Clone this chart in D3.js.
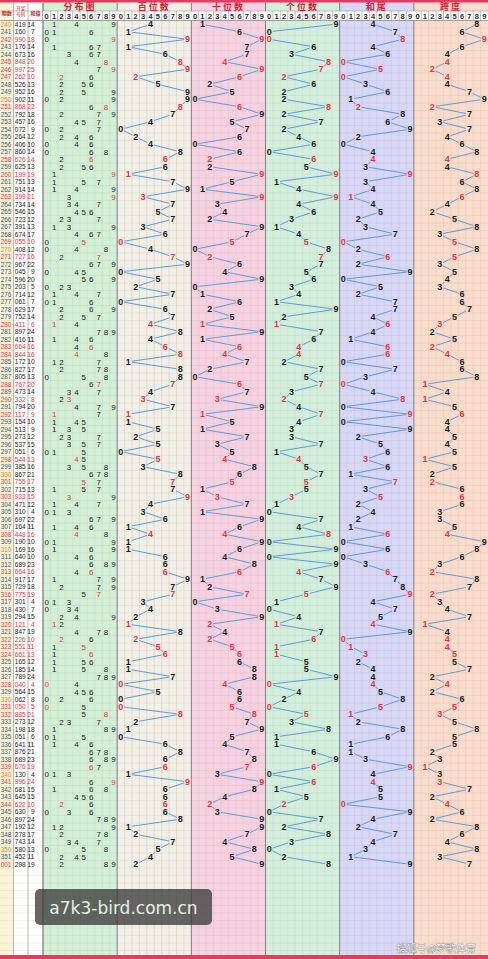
<!DOCTYPE html>
<html>
<head>
<meta charset="utf-8">
<script src="https://cdn.jsdelivr.net/npm/d3@7"></script>
<style>
body { margin: 0; background: #fff; }
svg { display: block; }
</style>
</head>
<body>
<div id="chart"></div>
<script>
// lottery trend chart: 3-digit draws, periods 240-351 + 001

// period labels
var periods = ["240","241","242","243","244","245","246","247","248","249",
  "250","251","252","253","254","255","256","257","258","259",
  "260","261","262","263","264","265","266","267","268","269",
  "270","271","272","273","274","275","276","277","278","279",
  "280","281","282","283","284","285","286","287","288","289",
  "290","291","292","293","294","295","296","297","298","299",
  "300","301","302","303","304","305","306","307","308","309",
  "310","311","312","313","314","315","316","317","318","319",
  "320","321","322","323","324","325","326","327","328","329",
  "330","331","332","333","334","335","336","337","338","339",
  "340","341","342","343","344","345","346","347","348","349",
  "350","351","001"];

// the drawn numbers, one per period
var draws = ["419","160","990","176","673","848","997","262","526","952",
  "902","868","792","457","072","264","406","860","626","625",
  "199","751","914","399","734","546","723","391","674","055",
  "408","727","967","045","596","203","714","061","629","752",
  "411","897","416","664","844","172","827","805","767","473",
  "332","794","117","154","513","273","537","051","544","385",
  "867","755","715","933","471","310","697","164","448","190",
  "169","640","689","664","917","729","775","301","430","294",
  "121","847","226","551","661","165","185","789","040","564",
  "062","050","885","273","198","051","641","876","689","676",
  "130","996","681","645","622","630","897","192","278","743",
  "580","452","298"];

// digit columns used in every chart area
var digits = ["0","1","2","3","4","5","6","7","8","9"];

// chart areas, in order
var areaTitles = ["分布图", "百位数", "十位数", "个位数", "和尾", "跨度"];
var areaFills = ["#d3efd6", "#f1efe6", "#f6d2e0", "#d3efdc", "#d8d7f5", "#f9dccb"];
var areaGrid = ["#c3e2c6", "#d6cfbd", "#eac3d2", "#c3e2cc", "#c9c8ea", "#efcbb9"];

//////////////////////////////////////////////////////////////////////
var ns = {};
ns.width = 488;
ns.height = 959;
ns.top = 20.5;          // first data row
ns.rowH = 7.5;
ns.chartX = 43;         // where the six chart areas begin
ns.areaW = (ns.width - ns.chartX) / 6;
ns.red = "#e6323e";
ns.line = "#5f9bd6";

// one record per row
ns.rows = draws.map(function (s, i) {
  var d = s.split("").map(Number);
  var sum = d[0] + d[1] + d[2];
  return {
    p: periods[i],
    n: s,
    d: d,
    sum: sum,
    tail: sum % 10,
    span: d3.max(d) - d3.min(d),
    pair: d[0] == d[1] || d[1] == d[2] || d[0] == d[2]
  };
});

var svg = d3.select("#chart").append("svg")
  .attr("width", ns.width)
  .attr("height", ns.height);

// row scale
var yScale = d3.scaleBand()
  .domain(periods)
  .range([ns.top, ns.top + periods.length * ns.rowH]);

// x scale for each area
var areaX = areaTitles.map(function (t, i) {
  var x0 = ns.chartX + i * ns.areaW;
  return d3.scaleBand().domain(digits).range([x0, x0 + ns.areaW]);
});

function cy(p) { return yScale(p) + yScale.bandwidth() / 2; }
function cx(a, v) { return areaX[a](String(v)) + areaX[a].bandwidth() / 2; }

var gridBottom = 955;

//////////////////////////////////////////////////////////////////////
// backgrounds
svg.append("rect").attr("x", 0).attr("y", 0).attr("width", 13.5)
  .attr("height", ns.height).attr("fill", "#fbf3d6");
svg.append("rect").attr("x", 13.5).attr("y", 0).attr("width", 29.5)
  .attr("height", ns.height).attr("fill", "#fdfdfb");

areaTitles.forEach(function (t, i) {
  var r = areaX[i].range();
  svg.append("rect")
    .attr("x", r[0]).attr("y", 0)
    .attr("width", r[1] - r[0]).attr("height", ns.height)
    .attr("fill", areaFills[i]);

  // vertical grid lines
  svg.append("g").selectAll("line")
    .data(digits.slice(1))
    .enter().append("line")
    .attr("x1", function (d) { return areaX[i](d); })
    .attr("x2", function (d) { return areaX[i](d); })
    .attr("y1", 11).attr("y2", gridBottom)
    .attr("stroke", areaGrid[i])
    .attr("stroke-width", 0.6);
});

// horizontal grid lines, data rows and empty rows below
var hLines = d3.range(ns.top, gridBottom, ns.rowH);
svg.append("g").selectAll("line")
  .data(hLines)
  .enter().append("line")
  .attr("x1", 0).attr("x2", ns.width)
  .attr("y1", function (d) { return d; })
  .attr("y2", function (d) { return d; })
  .attr("stroke", "#000")
  .attr("stroke-opacity", 0.08)
  .attr("stroke-width", 0.6);

// column separators
[13.5, 28, 43].forEach(function (x) {
  svg.append("line").attr("x1", x).attr("x2", x)
    .attr("y1", 3).attr("y2", gridBottom)
    .attr("stroke", "#9a9a9a").attr("stroke-width", 0.7);
});
areaTitles.forEach(function (t, i) {
  var x = areaX[i].range()[0];
  svg.append("line").attr("x1", x).attr("x2", x)
    .attr("y1", 3).attr("y2", gridBottom)
    .attr("stroke", "#7f7f7f").attr("stroke-width", 1);
});

//////////////////////////////////////////////////////////////////////
// header
var head = svg.append("g");
head.append("rect").attr("x", 43).attr("y", 11).attr("width", ns.width - 43)
  .attr("height", 9.5).attr("fill", "#fbfbfb");
head.append("line").attr("x1", 0).attr("x2", ns.width)
  .attr("y1", 11).attr("y2", 11).attr("stroke", "#a0a0a0").attr("stroke-width", 0.6);
head.append("line").attr("x1", 0).attr("x2", ns.width)
  .attr("y1", ns.top).attr("y2", ns.top).attr("stroke", "#8a8a8a").attr("stroke-width", 0.8);

areaTitles.forEach(function (t, i) {
  var r = areaX[i].range();
  head.append("text")
    .attr("x", (r[0] + r[1]) / 2).attr("y", 9.5)
    .attr("text-anchor", "middle")
    .attr("font-family", "Noto Sans CJK SC")
    .attr("font-size", "9px").attr("font-weight", "bold")
    .attr("fill", "#d6202e")
    .attr("letter-spacing", "2px")
    .text(t);

  head.append("g").selectAll("text")
    .data(digits)
    .enter().append("text")
    .attr("x", function (d) { return cx(i, d); })
    .attr("y", 18.6)
    .attr("text-anchor", "middle")
    .attr("font-family", "Liberation Sans")
    .attr("font-size", "7.5px").attr("font-weight", "bold")
    .attr("fill", "#333")
    .text(function (d) { return d; });

  head.append("g").selectAll("line")
    .data(digits.slice(1))
    .enter().append("line")
    .attr("x1", function (d) { return areaX[i](d); })
    .attr("x2", function (d) { return areaX[i](d); })
    .attr("y1", 11).attr("y2", ns.top)
    .attr("stroke", "#9a9a9a").attr("stroke-width", 0.6);
});

head.append("text").attr("x", 6.7).attr("y", 14.5)
  .attr("text-anchor", "middle").attr("font-family", "Noto Sans CJK SC")
  .attr("font-size", "5px").attr("font-weight", "bold").attr("fill", "#c3202c")
  .text("期数");
head.append("text").attr("x", 20.7).attr("y", 10)
  .attr("text-anchor", "middle").attr("font-family", "Noto Sans CJK SC")
  .attr("font-size", "4.5px").attr("fill", "#c3202c").text("开奖");
head.append("text").attr("x", 20.7).attr("y", 15.5)
  .attr("text-anchor", "middle").attr("font-family", "Noto Sans CJK SC")
  .attr("font-size", "4.5px").attr("fill", "#c3202c").text("号码");
head.append("text").attr("x", 35.5).attr("y", 14.5)
  .attr("text-anchor", "middle").attr("font-family", "Noto Sans CJK SC")
  .attr("font-size", "5px").attr("font-weight", "bold").attr("fill", "#c3202c")
  .text("和值");

// red border top and bottom
svg.append("rect").attr("x", 0).attr("y", 0).attr("width", ns.width)
  .attr("height", 2.5).attr("fill", "#e63a60");
svg.append("rect").attr("x", 0).attr("y", 955).attr("width", ns.width)
  .attr("height", 4).attr("fill", "#e63a60");

//////////////////////////////////////////////////////////////////////
// left columns: period, number, sum (squeezed to fit the narrow cells)
var left = svg.append("g")
  .attr("font-family", "Liberation Sans")
  .attr("font-size", "7.4px");

left.selectAll(".period")
  .data(ns.rows).enter().append("text")
  .attr("class", "period")
  .attr("x", 0.8)
  .attr("y", function (d) { return cy(d.p); })
  .attr("dy", "0.36em")
  .attr("textLength", 10.6)
  .attr("lengthAdjust", "spacingAndGlyphs")
  .attr("fill", function (d) {
    if (d.p == "001" || d.pair) return ns.red;
    if (d.p.slice(-1) == "0") return "#f07a12";
    return "#2e5c7c";
  })
  .text(function (d) { return d.p; });

left.selectAll(".num")
  .data(ns.rows).enter().append("text")
  .attr("class", "num")
  .attr("x", 14.8)
  .attr("y", function (d) { return cy(d.p); })
  .attr("dy", "0.36em")
  .attr("textLength", 10.8)
  .attr("lengthAdjust", "spacingAndGlyphs")
  .attr("fill", function (d) { return d.pair ? ns.red : "#1b1b1b"; })
  .text(function (d) { return d.n; });

left.selectAll(".sum")
  .data(ns.rows).enter().append("text")
  .attr("class", "sum")
  .attr("x", function (d) { return 34.6 - String(d.sum).length * 3.7; })
  .attr("y", function (d) { return cy(d.p); })
  .attr("dy", "0.36em")
  .attr("textLength", function (d) { return String(d.sum).length * 3.7; })
  .attr("lengthAdjust", "spacingAndGlyphs")
  .attr("fill", function (d) { return d.pair ? ns.red : "#1b1b1b"; })
  .text(function (d) { return d.sum; });

//////////////////////////////////////////////////////////////////////
// distribution chart: every distinct digit of the draw
var distData = [];
ns.rows.forEach(function (r) {
  digits.forEach(function (k) {
    var c = r.d.filter(function (v) { return String(v) == k; }).length;
    if (c > 0) distData.push({ p: r.p, v: k, twice: c > 1 });
  });
});

svg.append("g").selectAll("text")
  .data(distData).enter().append("text")
  .attr("x", function (d) { return cx(0, d.v); })
  .attr("y", function (d) { return cy(d.p); })
  .attr("dy", "0.36em")
  .attr("text-anchor", "middle")
  .attr("font-family", "Liberation Sans")
  .attr("font-size", "8px")
  .attr("fill", function (d) { return d.twice ? ns.red : "#1b1b1b"; })
  .text(function (d) { return d.v; });

//////////////////////////////////////////////////////////////////////
// trend charts: hundreds, tens, units, sum tail, span
var trendKeys = [
  function (r) { return r.d[0]; },
  function (r) { return r.d[1]; },
  function (r) { return r.d[2]; },
  function (r) { return r.tail; },
  function (r) { return r.span; }
];

trendKeys.forEach(function (key, k) {
  var a = k + 1;
  var pts = ns.rows.map(function (r) {
    return { x: cx(a, key(r)), y: cy(r.p), v: key(r), pair: r.pair };
  });

  // segments between consecutive rows, trimmed near the digits
  var segs = d3.pairs(pts).map(function (s) {
    var dx = s[1].x - s[0].x, dy = s[1].y - s[0].y;
    var L = Math.sqrt(dx * dx + dy * dy);
    var t = L > 8 ? 3.6 / L : 0;
    return [s[0].x + dx * t, s[0].y + dy * t, s[1].x - dx * t, s[1].y - dy * t, L];
  }).filter(function (s) { return s[4] > 8; });

  var g = svg.append("g");
  g.selectAll("line")
    .data(segs).enter().append("line")
    .attr("x1", function (d) { return d[0]; })
    .attr("y1", function (d) { return d[1]; })
    .attr("x2", function (d) { return d[2]; })
    .attr("y2", function (d) { return d[3]; })
    .attr("stroke", ns.line)
    .attr("stroke-width", 1);

  g.selectAll("text")
    .data(pts).enter().append("text")
    .attr("x", function (d) { return d.x; })
    .attr("y", function (d) { return d.y; })
    .attr("dy", "0.36em")
    .attr("text-anchor", "middle")
    .attr("font-family", "Liberation Sans")
    .attr("font-size", "9px")
    .attr("font-weight", "bold")
    .attr("fill", function (d) { return d.pair ? ns.red : "#1b1b1b"; })
    .text(function (d) { return d.v; });
});

//////////////////////////////////////////////////////////////////////
// watermark and source note
var wm = svg.append("g");
wm.append("rect")
  .attr("x", 35).attr("y", 889).attr("width", 177).attr("height", 36)
  .attr("rx", 5).attr("fill", "#3c3c3c").attr("fill-opacity", 0.78);
wm.append("text")
  .attr("x", 123.5).attr("y", 913.5)
  .attr("text-anchor", "middle")
  .attr("font-family", "DejaVu Sans")
  .attr("font-size", "17px")
  .attr("fill", "#e6efe8")
  .text("a7k3-bird.com.cn");

svg.append("text")
  .attr("x", 476).attr("y", 952)
  .attr("text-anchor", "end")
  .attr("font-family", "Noto Sans CJK SC")
  .attr("font-size", "10px")
  .attr("fill", "#f4f4f4")
  .attr("stroke", "#777")
  .attr("stroke-width", 0.6)
  .attr("paint-order", "stroke")
  .text("搜狐号@梦歌体育");
</script>
</body>
</html>
